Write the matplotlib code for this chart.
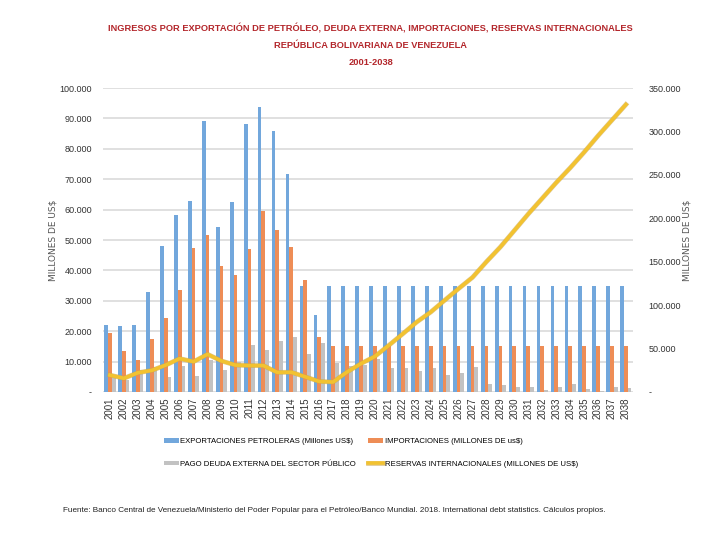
import matplotlib
matplotlib.use("Agg")
import matplotlib.pyplot as plt
import matplotlib.patheffects as pe
from matplotlib.ticker import FuncFormatter
import numpy as np

plt.rcParams['font.family'] = ['Liberation Sans', 'DejaVu Sans']

years = [str(y) for y in range(2001, 2039)]

# exportaciones petroleras (millones US$)
exportaciones = [21.9, 21.6, 22.2, 32.9, 48.2, 58.1, 62.7, 89.0, 54.3, 62.5,
                 88.2, 93.6, 85.8, 71.7, 35.0, 25.3] + [35.0] * 22
# importaciones
importaciones = [19.5, 13.6, 10.7, 17.3, 24.2, 33.7, 47.4, 51.6, 41.4, 38.6,
                 47.1, 59.5, 53.2, 47.7, 36.7, 18.1] + [15.0] * 22
# pago deuda externa del sector publico
deuda = [5.0, 4.0, 7.4, 8.4, 4.9, 8.6, 5.3, 10.4, 7.4, 9.8,
         15.5, 13.8, 16.9, 18.1, 12.6, 16.2, 9.6, 8.5, 9.0, 10.8,
         7.8, 7.8, 6.8, 7.9, 5.6, 6.4, 8.2, 2.7, 2.3, 1.7,
         1.7, 0.6, 1.5, 2.7, 0.9, 0.3, 1.5, 1.4]
# reservas internacionales (eje derecho)
reservas = [19.5, 15.8, 22.2, 24.9, 31.0, 38.5, 35.0, 43.5, 35.8, 31.0,
            30.5, 30.5, 22.6, 22.8, 17.6, 12.2, 11.5, 23.0, 32.7, 41.0,
            53.8, 67.0, 80.6, 92.0, 105.6, 119.0, 132.0, 150.0, 167.0, 186.0,
            205.0, 223.0, 241.0, 258.0, 276.0, 295.0, 313.0, 331.0]

exportaciones = np.array(exportaciones) * 1000
importaciones = np.array(importaciones) * 1000
deuda = np.array(deuda) * 1000
reservas = np.array(reservas) * 1000

def miles(v, pos):
    if v == 0:
        return "-"
    return f"{int(v):,}".replace(",", ".")

fig = plt.figure(figsize=(7.2, 5.4), dpi=100)
ax = fig.add_axes([0.143, 0.274, 0.736, 0.563])
ax2 = ax.twinx()

x = np.arange(len(years))
w = 0.267
ax.bar(x - w, exportaciones, w, color='#72A7DC', label='EXPORTACIONES PETROLERAS (Millones US$)')
ax.bar(x, importaciones, w, color='#EE8D56', label='IMPORTACIONES (MILLONES DE us$)')
ax.bar(x + w, deuda, w, color='#C2C2C2', label='PAGO DEUDA EXTERNA DEL SECTOR PÚBLICO')
ln, = ax2.plot(x, reservas, color='#F2C230', lw=2.6, label='RESERVAS INTERNACIONALES (MILLONES DE US$)',
               path_effects=[pe.Stroke(linewidth=3.4, foreground='#C9A44A', alpha=0.6), pe.Normal()])

ax.set_xlim(-0.5, len(years) - 0.5)
ax.set_ylim(0, 100000)
ax2.set_ylim(0, 350000)
ax.set_yticks(np.arange(0, 100001, 10000))
ax2.set_yticks(np.arange(0, 350001, 50000))
ax.yaxis.set_major_formatter(FuncFormatter(miles))
ax2.yaxis.set_major_formatter(FuncFormatter(miles))
ax.grid(axis='y', color='#DADADA', lw=1.2)
ax.set_axisbelow(True)

ax.set_xticks(x)
ax.set_xticklabels(years, rotation=90, fontsize=7, color='#333333')
for a in (ax, ax2):
    for s in a.spines.values():
        s.set_visible(False)
    a.tick_params(length=0, labelsize=6.5, labelcolor='#333333')
ax.tick_params(axis='x', labelsize=7, pad=4)
ax.tick_params(axis='y', pad=8)
ax2.tick_params(axis='y', pad=11)

ax.set_ylabel('MILLONES DE US$', fontsize=6.5, color='#555555', family='DejaVu Sans', labelpad=1)
ax2.set_ylabel('MILLONES DE US$', fontsize=6.5, color='#555555', family='DejaVu Sans', rotation=90, labelpad=1)

titulo = ['INGRESOS POR EXPORTACIÓN DE PETRÓLEO, DEUDA EXTERNA, IMPORTACIONES, RESERVAS INTERNACIONALES',
          'REPÚBLICA BOLIVARIANA DE VENEZUELA', '2001-2038']
for i, t in enumerate(titulo):
    fig.text(0.515, 0.948 - i * 0.0315, t, ha='center', va='center', fontsize=6.65,
             color='#B3262B', weight='bold')

h1, l1 = ax.get_legend_handles_labels()
handles = [h1[0], h1[2], h1[1], ln]
labels = [l1[0], l1[2], l1[1], ln.get_label()]
fig.legend(handles, labels, ncol=2, loc='center', bbox_to_anchor=(0.515, 0.161), frameon=False,
           fontsize=5.6, handlelength=1.9, handleheight=0.5, columnspacing=1.6, labelspacing=2.0,
           handletextpad=0.2)

fig.text(0.088, 0.055, 'Fuente: Banco Central de Venezuela/Ministerio del Poder Popular para el Petróleo/Banco Mundial. '
         '2018. International debt statistics. Cálculos propios.', fontsize=5.9, color='#222222', va='center')

fig.savefig('out.png', dpi=100)
